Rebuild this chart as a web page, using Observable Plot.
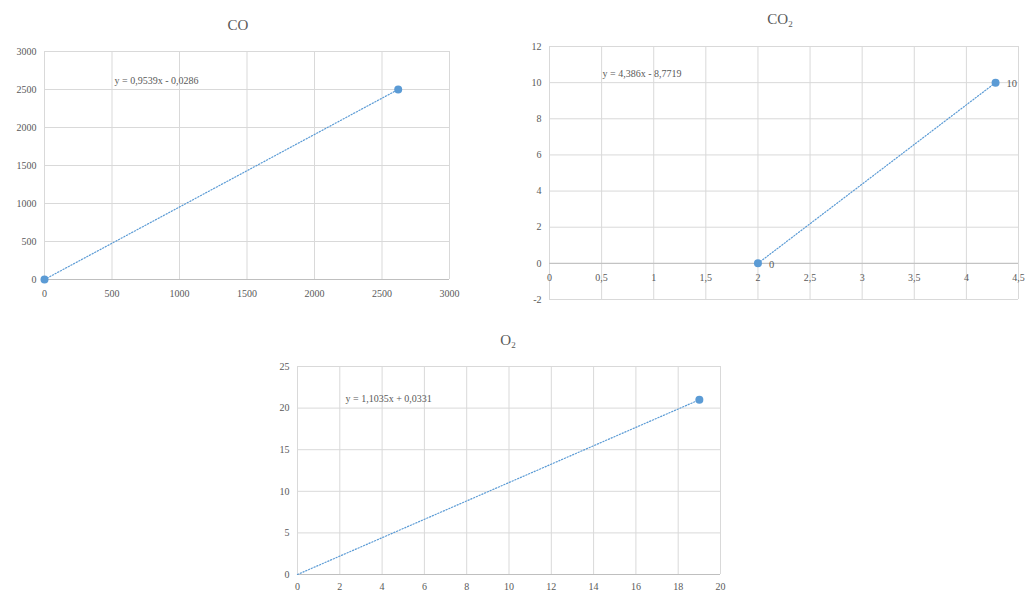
<!DOCTYPE html>
<html>
<head>
<meta charset="utf-8">
<script src="https://cdn.jsdelivr.net/npm/d3@7"></script>
<script src="https://cdn.jsdelivr.net/npm/@observablehq/plot@0.6"></script>
<style>
  html, body { margin: 0; padding: 0; background: #fff; }
  #root { position: relative; width: 1026px; height: 591px; overflow: hidden; font-family: "Liberation Serif", "Times New Roman", serif; }
  .title { position: absolute; font-size: 15px; color: #595959; transform: translate(-50%, -50%); white-space: nowrap; }
  .title sub { font-size: 9px; vertical-align: -3px; }
  .chart { position: absolute; }
</style>
</head>
<body>
<div id="root"></div>
<script>
// ---- data ----
const coX = [0, 2620];
const coY = [0, 2500];
const coXTicks = [0, 500, 1000, 1500, 2000, 2500, 3000];
const coYTicks = [0, 500, 1000, 1500, 2000, 2500, 3000];
const coEq = "y = 0,9539x - 0,0286";

const co2X = [2, 4.28];
const co2Y = [0, 10];
const co2XTicks = [0, 0.5, 1, 1.5, 2, 2.5, 3, 3.5, 4, 4.5];
const co2YTicks = [-2, 0, 2, 4, 6, 8, 10, 12];
const co2Eq = "y = 4,386x - 8,7719";

const o2X = [0, 19];
const o2Y = [0, 21];
const o2XTicks = [0, 2, 4, 6, 8, 10, 12, 14, 16, 18, 20];
const o2YTicks = [0, 5, 10, 15, 20, 25];
const o2Eq = "y = 1,1035x + 0,0331";

// ---- styling ----
const FONT = "Liberation Serif, Times New Roman, serif";
const BLUE = "#5b9bd5";
const GRID = "#d9d9d9";
const fmt = d => String(d).replace(".", ",");
const root = document.getElementById("root");

function addTitle(html, x, y) {
  const d = document.createElement("div");
  d.className = "title";
  d.innerHTML = html;
  d.style.left = x + "px";
  d.style.top = y + "px";
  root.appendChild(d);
}

function chart(cfg) {
  const pts = cfg.xs.map((x, i) => ({x, y: cfg.ys[i]}));
  const marks = [
    Plot.gridX(cfg.xTicks, {stroke: GRID, strokeOpacity: 1}),
    Plot.gridY(cfg.yTicks, {stroke: GRID, strokeOpacity: 1}),
    Plot.ruleY([0], {stroke: "#bfbfbf"}),
    Plot.axisY(cfg.yTicks, {label: null, tickSize: 0, tickPadding: 8, tickFormat: fmt, fontSize: 10, fontFamily: FONT}),
  ];
  if (cfg.xAtZero) {
    marks.push(Plot.text(cfg.xTicks, {x: d => d, y: () => 0, dy: 14, text: fmt, fontSize: 10, fontFamily: FONT}));
  } else {
    marks.push(Plot.axisX(cfg.xTicks, {label: null, tickSize: 0, tickPadding: cfg.xPad, tickFormat: fmt, fontSize: 10, fontFamily: FONT}));
  }
  marks.push(
    Plot.line(pts, {x: "x", y: "y", stroke: BLUE, strokeWidth: 1.2, strokeDasharray: "1.2,1.8"}),
    Plot.dot(pts.filter(cfg.dotFilter || (() => true)), {x: "x", y: "y", r: 4, fill: BLUE, stroke: "none"}),
    Plot.text([cfg.eq], {frameAnchor: "top-left", dx: cfg.eqDx, dy: cfg.eqDy, text: d => d, textAnchor: "start", fontSize: 10, fontFamily: FONT})
  );
  if (cfg.labels) {
    marks.push(Plot.text(pts, {x: "x", y: "y", text: d => fmt(d.y), dx: 11, dy: 1, textAnchor: "start", fontSize: 10.5, fontFamily: FONT}));
  }
  const svg = Plot.plot({
    width: cfg.width, height: cfg.height,
    marginLeft: cfg.ml, marginRight: cfg.mr, marginTop: cfg.mt, marginBottom: cfg.mb,
    x: {domain: cfg.xDomain, axis: null, label: null},
    y: {domain: cfg.yDomain, axis: null, label: null},
    style: {color: "#595959", fontFamily: FONT, background: "transparent", overflow: "visible"},
    marks
  });
  svg.classList.add("chart");
  svg.style.left = cfg.left + "px";
  svg.style.top = cfg.top + "px";
  root.appendChild(svg);
}

// CO
addTitle("CO", 238, 25);
chart({xs: coX, ys: coY, xTicks: coXTicks, yTicks: coYTicks, xDomain: [0, 3000], yDomain: [0, 3000],
  left: 0, top: 40, width: 460, height: 265, ml: 44, mr: 11, mt: 11, mb: 26, xPad: 10,
  eq: coEq, eqDx: 70, eqDy: 25});

// CO2
addTitle("CO<sub>2</sub>", 780, 20);
chart({xs: co2X, ys: co2Y, xTicks: co2XTicks, yTicks: co2YTicks, xDomain: [0, 4.5], yDomain: [-2, 12],
  left: 510, top: 35, width: 516, height: 275, ml: 39, mr: 8, mt: 11, mb: 11, xAtZero: true,
  eq: co2Eq, eqDx: 53, eqDy: 23, labels: true});

// O2
addTitle("O<sub>2</sub>", 508, 341);
chart({xs: o2X, ys: o2Y, xTicks: o2XTicks, yTicks: o2YTicks, xDomain: [0, 20], yDomain: [0, 25],
  left: 250, top: 355, width: 500, height: 240, ml: 47, mr: 30, mt: 11, mb: 21, xPad: 8,
  eq: o2Eq, eqDx: 48, eqDy: 28, dotFilter: d => d.x !== 0});
</script>
</body>
</html>
